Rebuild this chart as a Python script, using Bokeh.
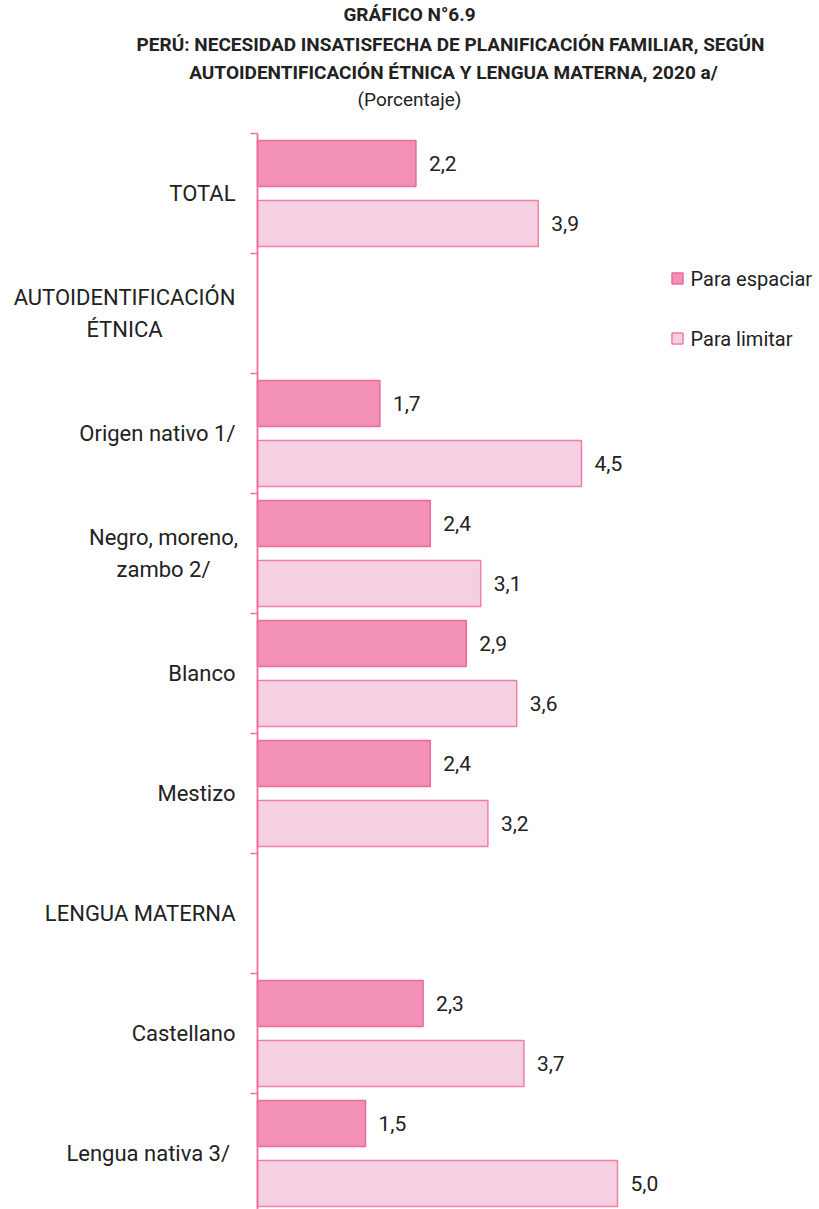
from bokeh.plotting import figure
from bokeh.models import Range1d, ColumnDataSource
from bokeh.embed import file_html
from bokeh.resources import INLINE
from bokeh.core.properties import value

categories = ["TOTAL", "AUTOIDENTIFICACIÓN\nÉTNICA", "Origen nativo 1/",
              "Negro, moreno,\nzambo 2/", "Blanco", "Mestizo",
              "LENGUA MATERNA", "Castellano", "Lengua  nativa 3/"]
espaciar = [2.2, None, 1.7, 2.4, 2.9, 2.4, None, 2.3, 1.5]
limitar = [3.9, None, 4.5, 3.1, 3.6, 3.2, None, 3.7, 5.0]
series_names = ["Para espaciar", "Para limitar"]
title_lines = ["GRÁFICO N°6.9",
               "PERÚ: NECESIDAD INSATISFECHA DE PLANIFICACIÓN FAMILIAR, SEGÚN",
               "AUTOIDENTIFICACIÓN ÉTNICA Y LENGUA MATERNA, 2020 a/"]
subtitle = "(Porcentaje)"

FONT = "Roboto"
W, H = 819, 1209
PX_X = 72.0      # pixels per percentage unit
PX_Y = 120.0     # pixels per category
AX_X = 257       # axis x in figure pixels
TOP_Y = 133      # first category boundary in figure pixels
TXT = "#222222"

def dx(px):  # figure pixel -> data x
    return (px - AX_X) / PX_X

def dy(py):  # figure pixel -> data y
    return (py - TOP_Y) / PX_Y

p = figure(width=W, height=H, output_backend="svg", toolbar_location=None,
           x_range=Range1d(dx(0), dx(W)), y_range=Range1d(dy(H), dy(0)),
           min_border=0, outline_line_color=None)
p.xaxis.visible = False
p.yaxis.visible = False
p.grid.visible = False
p.background_fill_color = "white"

idx = list(range(len(categories)))
e_idx = [i for i in idx if espaciar[i] is not None]
l_idx = [i for i in idx if limitar[i] is not None]

def fmt(v):
    return f"{v:.1f}".replace(".", ",")

src_e = ColumnDataSource(dict(y=[i + 0.25 for i in e_idx], v=[espaciar[i] for i in e_idx],
                              lab=[fmt(espaciar[i]) for i in e_idx]))
src_l = ColumnDataSource(dict(y=[i + 0.75 for i in l_idx], v=[limitar[i] for i in l_idx],
                              lab=[fmt(limitar[i]) for i in l_idx]))

BAR_H = 46 / PX_Y
p.hbar(y="y", left=0, right="v", height=BAR_H, source=src_e,
       fill_color="#F290B7", line_color="#EC6A9A", line_width=1.5)
p.hbar(y="y", left=0, right="v", height=BAR_H, source=src_l,
       fill_color="#F5CFE2", line_color="#F07FA8", line_width=1.5)

for src in (src_e, src_l):
    p.text(x="v", y="y", text="lab", source=src, x_offset=13, text_align="left",
           text_baseline="middle", text_font=value(FONT), text_font_size="21px",
           text_color=TXT)

# axis line and ticks
n = len(categories)
p.segment(x0=[0], y0=[0], x1=[0], y1=[n + 0.5], line_color="#F06E9C", line_width=1.8)
p.segment(x0=[dx(AX_X - 7)] * (n + 1), y0=list(range(n + 1)), x1=[0] * (n + 1),
          y1=list(range(n + 1)), line_color="#F06E9C", line_width=1.5)

# category labels: single lines right-aligned, multi-line blocks centred
LABEL_RIGHT = 235
single = [i for i, c in enumerate(categories) if "\n" not in c]
multi = [i for i, c in enumerate(categories) if "\n" in c]
p.text(x=[dx(LABEL_RIGHT)] * len(single), y=[i + 0.5 for i in single],
       text=[categories[i] for i in single], text_align="right", text_baseline="middle",
       text_font=value(FONT), text_font_size="22px", text_color=TXT)
multi_center = {1: 124, 3: 163}
p.text(x=[dx(multi_center[i]) for i in multi], y=[i + 0.5 for i in multi],
       text=[categories[i] for i in multi], text_align="center", text_baseline="middle",
       text_font=value(FONT), text_font_size="22px", text_color=TXT, text_line_height=1.25)

# legend
leg_x = dx(677)
leg_y = [dy(278), dy(338)]
p.scatter(x=[leg_x, leg_x], y=leg_y, marker="square", size=11,
          fill_color=["#F290B7", "#F5CFE2"], line_color=["#EC6A9A", "#F07FA8"], line_width=1.5)
p.text(x=[dx(690)] * 2, y=leg_y, text=series_names, text_baseline="middle",
       text_font=value(FONT), text_font_size="20px", text_color=TXT)

# titles
title_cx = [409, 450, 453]
p.text(x=[dx(c) for c in title_cx], y=[dy(14), dy(44), dy(72)], text=title_lines,
       text_align="center", text_baseline="middle", text_font=value(FONT),
       text_font_size="19px", text_font_style="bold", text_color=TXT)
p.text(x=[dx(409)], y=[dy(99)], text=[subtitle], text_align="center",
       text_baseline="middle", text_font=value(FONT), text_font_size="19px", text_color=TXT)

open("out.html", "w").write(file_html(p, INLINE))
